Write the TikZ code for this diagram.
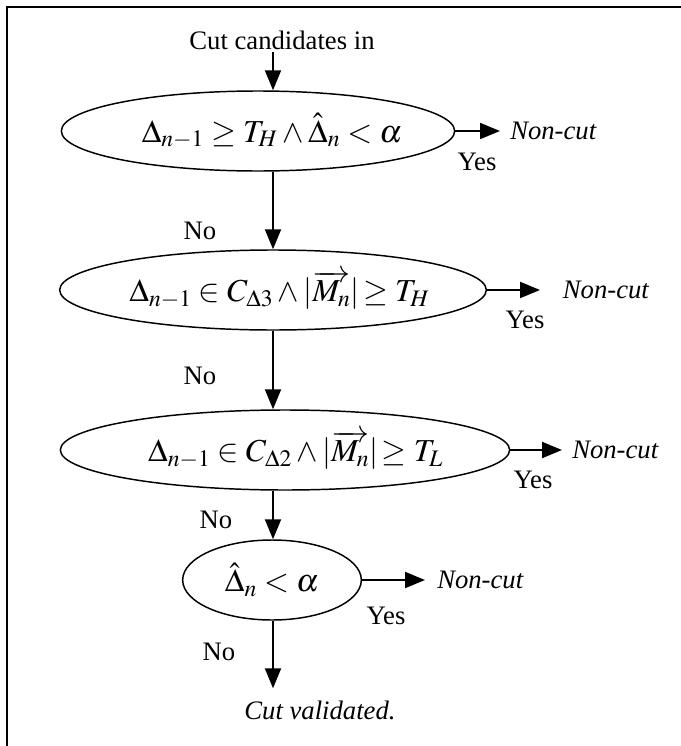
\documentclass[tikz,border=0pt]{standalone}
\usepackage{mathptmx}
\usepackage{fontspec}
\setmainfont{Liberation Serif}
\usetikzlibrary{arrows.meta,positioning,shapes.geometric}

\begin{document}
\begin{tikzpicture}[
  x=0.75pt, y=-0.75pt,
  test/.style={ellipse, draw, line width=1.1pt, inner sep=0pt,
               font=\fontsize{24}{28}\selectfont},
  lbl/.style={font=\fontsize{20}{24}\selectfont, inner sep=2pt},
  nc/.style={font=\fontsize{20}{24}\selectfont\itshape, anchor=west,
             inner sep=0pt, inner xsep=7.5pt},
  arr/.style={->, line width=1.5pt},
  >={Triangle[length=15pt,width=12pt]}
]
  \useasboundingbox (0,0) rectangle (681,746);
  \draw[line width=1.5pt] (7,7) rectangle (720,780);

  % main axis of the flow
  \coordinate (axis) at (273,0);

  % Input
  \node[lbl] (cin) at (282,40) {Cut candidates in};

  % Tests (text kept in a zero-width box so the ellipse keeps its size)
  \node[test, minimum width=295pt, minimum height=60pt] (e1) at (258,131)
    {\makebox[0pt]{\hspace*{21pt}$\Delta_{n-1}\geq T_H\wedge\hat{\Delta}_n<\alpha$}};
  \node[test, minimum width=320pt, minimum height=60pt] (e2) at (273,290)
    {\makebox[0pt]{\hspace*{10pt}$\Delta_{n-1}\in C_{\Delta 3}\wedge|\overrightarrow{M_n}|\!\geq T_H$}};
  \node[test, minimum width=337pt, minimum height=60pt] (e3) at (285,450)
    {\makebox[0pt]{\hspace*{16pt}$\Delta_{n-1}\in C_{\Delta 2}\wedge|\overrightarrow{M_n}|\!\geq T_L$}};
  \node[test, minimum width=134pt, minimum height=60pt] (e4) at (272,580)
    {\makebox[0pt]{$\hat{\Delta}_n<\alpha$}};

  % Outcomes
  \node[nc] (nc1) at (500,131) {Non-cut};
  \node[nc, inner xsep=17pt] (nc2) at (540,290) {Non-cut};
  \node[nc] (nc3) at (562,450) {Non-cut};
  \node[nc, inner xsep=9pt] (nc4) at (425,580) {Non-cut};
  \node[lbl, inner sep=9pt, font=\fontsize{20}{24}\selectfont\itshape]
    (done) at (320,710) {Cut validated.};

  % Down arrows
  \draw[arr] (cin.south -| axis) -- (e1.north -| axis);
  \draw[arr] (e1.south -| axis) -- (e2.north -| axis);
  \draw[arr] (e2.south -| axis) -- (e3.north -| axis);
  \draw[arr] (e3.south -| axis) -- (e4.north -| axis);
  \draw[arr] (e4.south -| axis) -- (done.north -| axis);

  % Side arrows
  \draw[arr] (e1.east) -- (nc1.west);
  \draw[arr] (e2.east) -- (nc2.west);
  \draw[arr] (e3.east) -- (nc3.west);
  \draw[arr] (e4.east) -- (nc4.west);

  % Labels
  \node[lbl] (y1) at (477,162) {Yes};
  \node[lbl] (y2) at (525,320) {Yes};
  \node[lbl] (y3) at (533,480) {Yes};
  \node[lbl] (y4) at (386,616) {Yes};
  \node[lbl] (n1) at (200,231) {No};
  \node[lbl] (n2) at (200,376) {No};
  \node[lbl] (n3) at (216,520) {No};
  \node[lbl] (n4) at (219,652) {No};
\end{tikzpicture}
\end{document}
